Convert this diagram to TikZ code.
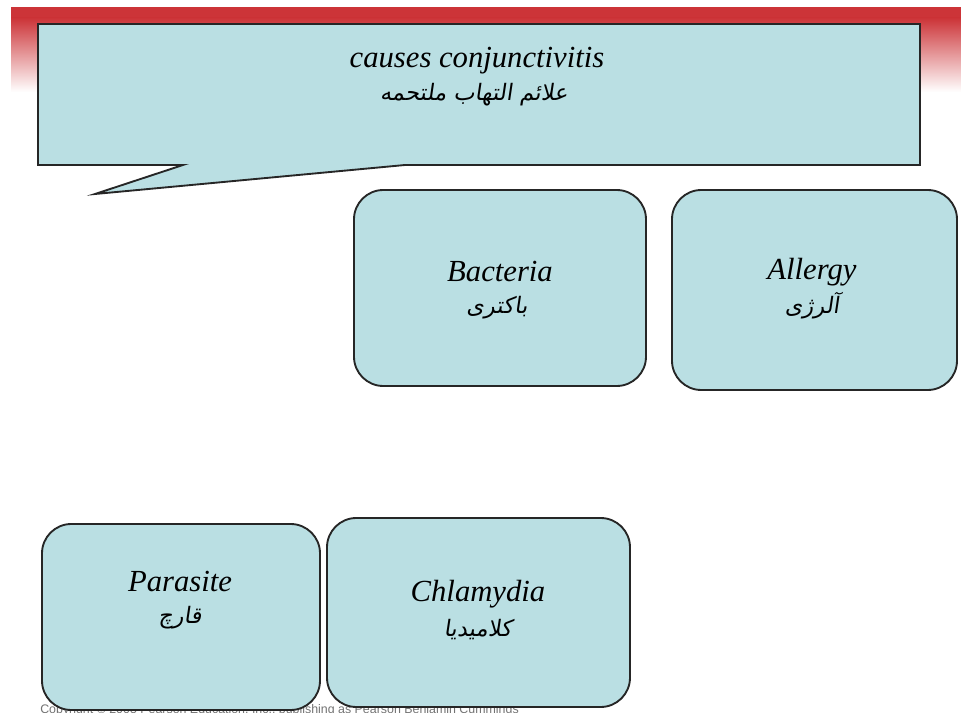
\documentclass[tikz,border=0pt]{standalone}
\usepackage{fontspec}
\setmainfont{Liberation Serif}
\newfontfamily\arabicfont[Script=Arabic,FakeSlant=0.15]{DejaVu Sans}
\newfontfamily\notefont{Liberation Sans}
\TeXXeTstate=1
\definecolor{boxfill}{RGB}{186,223,227}
\definecolor{bandred}{RGB}{204,52,56}
\begin{document}
\begin{tikzpicture}[x=0.75pt,y=-0.75pt,
  box/.style={draw=black!85, line width=1.4pt, fill=boxfill, rounded corners=22pt, inner sep=0pt},
  lbl/.style={font=\fontsize{23}{27}\selectfont\itshape, inner sep=0pt},
  ar/.style={font=\arabicfont\fontsize{17}{20}\selectfont, inner sep=0pt}]
\useasboundingbox (0,0) rectangle (961,713);
\fill[white] (0,0) rectangle (961,713);
% header band: solid red strip, then a fade to white
\fill[bandred] (11,7) rectangle (961,18);
\shade[top color=bandred, middle color=bandred!40, bottom color=white] (11,18) rectangle (961,92);
% footer note, mostly hidden behind the lower boxes
\node[anchor=base west, inner sep=0pt, text=black!55, font=\notefont\fontsize{9.3}{10}\selectfont] (note) at (40,713)
  {Copyright \textcopyright\ 2005 Pearson Education, Inc., publishing as Pearson Benjamin Cummings};
% callout with its pointer
\draw[fill=boxfill, draw=black!85, line width=1.4pt, line join=miter]
  (38,24) -- (920,24) -- (920,165) -- (405,165) -- (95,194) -- (183,165) -- (38,165) -- cycle;
\node[lbl] (title) at (477,61) {causes conjunctivitis};
\node[ar] (titlear) at (474,95) {\beginR علائم التهاب ملتحمه\endR};
% cause boxes
\node[box, minimum width=219pt, minimum height=147pt] (bacteria) at (500,288) {};
\node[box, minimum width=213.75pt, minimum height=150pt] (allergy) at (814.5,290) {};
\node[box, minimum width=208.5pt, minimum height=139.5pt] (parasite) at (181,617) {};
\node[box, minimum width=227.25pt, minimum height=141.75pt] (chlamydia) at (478.5,612.5) {};
% box labels
\node[lbl] (bacterialbl) at (500,272) {Bacteria};
\node[ar] (bacteriaar) at (497,308) {\beginR باکتری\endR};
\node[lbl] (allergylbl) at (812,272) {Allergy};
\node[ar] (allergyar) at (812,306) {\beginR آلرژی\endR};
\node[lbl] (parasitelbl) at (180,582) {Parasite};
\node[ar] (parasitear) at (180,618) {\beginR قارچ\endR};
\node[lbl] (chlamydialbl) at (478,594) {Chlamydia};
\node[ar] (chlamydiaar) at (478,630) {\beginR کلامیدیا\endR};
\end{tikzpicture}
\end{document}
